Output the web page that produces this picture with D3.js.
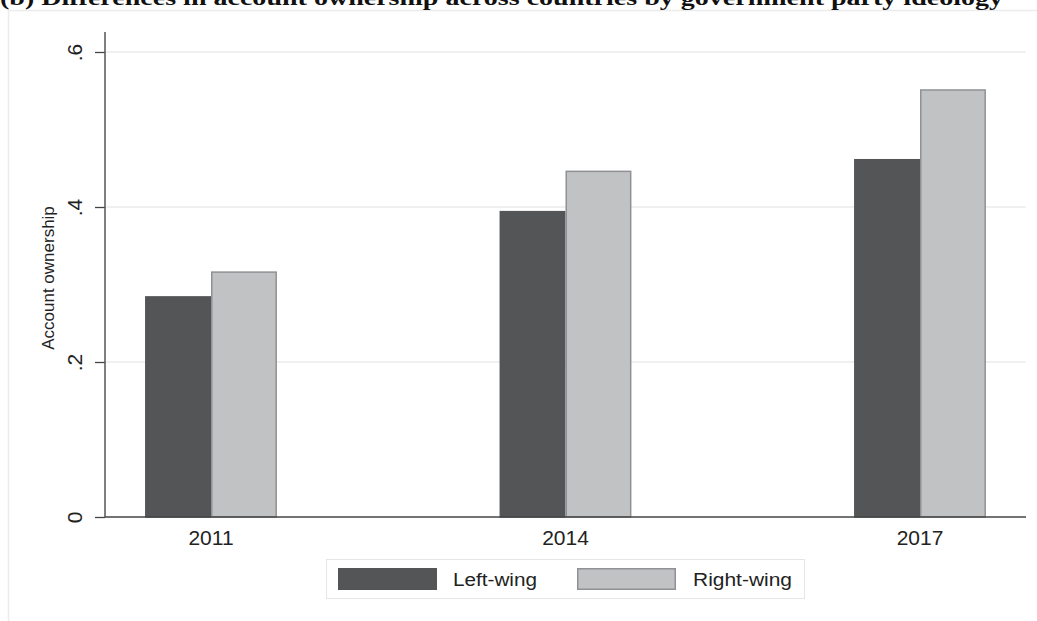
<!DOCTYPE html>
<html>
<head>
<meta charset="utf-8">
<script src="https://cdn.jsdelivr.net/npm/d3@7"></script>
<style>
  html, body { margin: 0; padding: 0; background: #fff; }
  svg { display: block; }
</style>
</head>
<body>
<svg id="chart" width="1037" height="621"></svg>
<script>
// Account ownership by survey year and government party ideology
const years = ["2011", "2014", "2017"];
const seriesNames = ["Left-wing", "Right-wing"];
const leftWing = [0.284, 0.394, 0.461];
const rightWing = [0.316, 0.446, 0.551];
const yTicks = [0, 0.2, 0.4, 0.6];
const yTickLabels = ["0", ".2", ".4", ".6"];

const fills = { "Left-wing": "#545557", "Right-wing": "#c1c2c4" };
const strokes = { "Left-wing": "#545557", "Right-wing": "#909194" };

const rows = years.map((y, i) => ({ year: y, values: [
  { name: seriesNames[0], value: leftWing[i] },
  { name: seriesNames[1], value: rightWing[i] }
]}));

const svg = d3.select("#chart");
const plot = { left: 105, right: 1026, top: 32, bottom: 517 };
const sans = "Liberation Sans, Arial, Helvetica, sans-serif";

// outer frame of the graph region
svg.append("path")
  .attr("d", "M8.5,621 L8.5,10.5 L1037,10.5")
  .attr("fill", "none").attr("stroke", "#ececec").attr("stroke-width", 1.5);

// title (runs off the top edge)
svg.append("text")
  .attr("x", 0).attr("y", 5)
  .attr("font-family", "Liberation Serif, Times New Roman, serif")
  .attr("font-weight", "bold").attr("font-size", 22)
  .attr("fill", "#111")
  .attr("textLength", 1003).attr("lengthAdjust", "spacingAndGlyphs")
  .text("(b) Differences in account ownership across countries by government party ideology");

const y = d3.scaleLinear().domain([0, 0.6]).range([plot.bottom, 52]);
const x0 = d3.scaleBand().domain(years).range([plot.left, plot.right])
  .paddingInner(0.628).paddingOuter(0.113);
const x1 = d3.scaleBand().domain(seriesNames).range([0, x0.bandwidth()]).padding(0);

// gridlines
svg.append("g").selectAll("line").data(yTicks.filter(t => t > 0)).join("line")
  .attr("x1", plot.left).attr("x2", plot.right)
  .attr("y1", d => y(d)).attr("y2", d => y(d))
  .attr("stroke", "#ebebeb").attr("stroke-width", 1.5);

// bars
const groups = svg.append("g").selectAll("g").data(rows).join("g")
  .attr("transform", d => `translate(${x0(d.year)},0)`);
groups.selectAll("rect").data(d => d.values).join("rect")
  .attr("x", d => x1(d.name) + 0.75)
  .attr("width", x1.bandwidth() - 1.5)
  .attr("y", d => y(d.value))
  .attr("height", d => y(0) - y(d.value))
  .attr("fill", d => fills[d.name])
  .attr("stroke", d => strokes[d.name])
  .attr("stroke-width", 1.5);

// y axis
const yAxis = d3.axisLeft(y).tickValues(yTicks)
  .tickFormat((d, i) => yTickLabels[i]).tickSize(10);
const gy = svg.append("g").attr("transform", `translate(${plot.left},0)`).call(yAxis);
gy.select(".domain").remove();
gy.selectAll(".tick line").attr("stroke", "#444").attr("stroke-width", 1.3);
gy.selectAll(".tick text")
  .attr("font-family", sans)
  .attr("font-size", 21).attr("fill", "#222")
  .attr("text-anchor", "middle")
  .attr("transform", "rotate(-90)")
  .attr("x", 0).attr("dy", null)
  .attr("y", -23);
svg.append("line")
  .attr("x1", plot.left).attr("x2", plot.left)
  .attr("y1", plot.top).attr("y2", plot.bottom)
  .attr("stroke", "#555").attr("stroke-width", 1.5);

// x axis
const xAxis = d3.axisBottom(x0).tickSize(0).tickPadding(13);
const gx = svg.append("g").attr("transform", `translate(0,${plot.bottom})`).call(xAxis);
gx.select(".domain").remove();
gx.selectAll(".tick text")
  .attr("font-family", sans)
  .attr("font-size", 21).attr("fill", "#222")
  .attr("dy", "0.71em");
svg.append("line")
  .attr("x1", plot.left).attr("x2", plot.right)
  .attr("y1", plot.bottom).attr("y2", plot.bottom)
  .attr("stroke", "#444").attr("stroke-width", 1.5);

// y axis title
svg.append("text")
  .attr("transform", "translate(54,278) rotate(-90)")
  .attr("text-anchor", "middle")
  .attr("font-family", sans)
  .attr("font-size", 17).attr("fill", "#222")
  .text("Account ownership");

// legend
const legend = svg.append("g");
legend.append("rect")
  .attr("x", 326.5).attr("y", 559.5).attr("width", 478).attr("height", 39)
  .attr("fill", "#fff").attr("stroke", "#e6e6e6").attr("stroke-width", 1);
const legendItems = [
  { name: seriesNames[0], sx: 338, tx: 453, len: 84 },
  { name: seriesNames[1], sx: 577, tx: 693, len: 99 }
];
legendItems.forEach(it => {
  legend.append("rect")
    .attr("x", it.sx + 0.75).attr("y", 568.75).attr("width", 97.5).attr("height", 20.5)
    .attr("fill", fills[it.name]).attr("stroke", strokes[it.name]).attr("stroke-width", 1.5);
  legend.append("text")
    .attr("x", it.tx).attr("y", 586)
    .attr("font-family", sans)
    .attr("font-size", 18).attr("fill", "#222")
    .attr("textLength", it.len).attr("lengthAdjust", "spacingAndGlyphs")
    .text(it.name);
});
</script>
</body>
</html>
